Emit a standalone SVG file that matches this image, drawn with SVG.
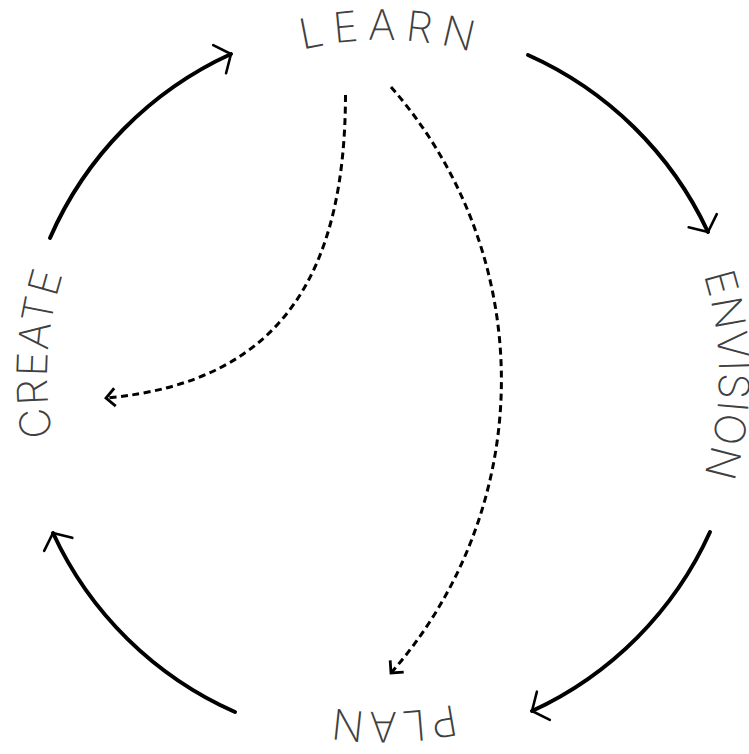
<svg xmlns="http://www.w3.org/2000/svg" xmlns:xlink="http://www.w3.org/1999/xlink" width="749" height="754" viewBox="0 0 749 754">
  <style>
    .lbl { font-family: Inter, Lato, "Liberation Sans", sans-serif; font-size: 42px; font-weight: 200; fill: #404040; }
    .arc { fill: none; stroke: #000; stroke-width: 4; stroke-linecap: round; }
    .dash { fill: none; stroke: #000; stroke-width: 3; stroke-dasharray: 7 4.5; }
  </style>
  <defs>
    <path id="ring" d="M145.41,613.59 A336,336 0 0 1 620.59,138.41 A336,336 0 0 1 145.41,613.59"/>
    <marker id="headBig" markerUnits="userSpaceOnUse" markerWidth="40" markerHeight="40" viewBox="-30 -20 40 40" refX="0" refY="0" orient="auto" overflow="visible">
      <path d="M-12.5,-15.5 L0,0 L-12.5,15.5" fill="none" stroke="#000" stroke-width="2.6" stroke-linecap="round" stroke-linejoin="miter"/>
    </marker>
    <marker id="headSmall" markerUnits="userSpaceOnUse" markerWidth="30" markerHeight="30" viewBox="-20 -15 30 30" refX="0" refY="0" orient="auto" overflow="visible">
      <path d="M-9,-9 L0,0 L-9,9" fill="none" stroke="#000" stroke-width="2.8" stroke-linecap="butt" stroke-linejoin="miter"/>
    </marker>
  </defs>

  <g id="connectors">
    <path class="arc" d="M50,238 A361,361 0 0 1 231,54" marker-end="url(#headBig)"/>
    <path class="arc" d="M528,55 A361,361 0 0 1 708,232" marker-end="url(#headBig)"/>
    <path class="arc" d="M710,532 A361,361 0 0 1 532,711" marker-end="url(#headBig)"/>
    <path class="arc" d="M235,712 A361,361 0 0 1 53,533" marker-end="url(#headBig)"/>
    <path class="dash" d="M345.5,95 C345,265 288,382 106,398" marker-end="url(#headSmall)"/>
    <path class="dash" d="M391,87 A444,444 0 0 1 391,673" marker-end="url(#headSmall)"/>
  </g>

  <g id="learn">
    <text class="lbl" letter-spacing="9"><textPath xlink:href="#ring" href="#ring" startOffset="799.7" text-anchor="middle">LEARN</textPath></text>
  </g>
  <g id="envision">
    <text class="lbl" letter-spacing="1"><textPath xlink:href="#ring" href="#ring" startOffset="1318.2" text-anchor="middle">ENVISION</textPath></text>
  </g>
  <g id="plan">
    <text class="lbl" letter-spacing="4"><textPath xlink:href="#ring" href="#ring" startOffset="1837.6" text-anchor="middle">PLAN</textPath></text>
  </g>
  <g id="create">
    <text class="lbl" letter-spacing="1.5"><textPath xlink:href="#ring" href="#ring" startOffset="285.8" text-anchor="middle">CREATE</textPath></text>
  </g>
</svg>
